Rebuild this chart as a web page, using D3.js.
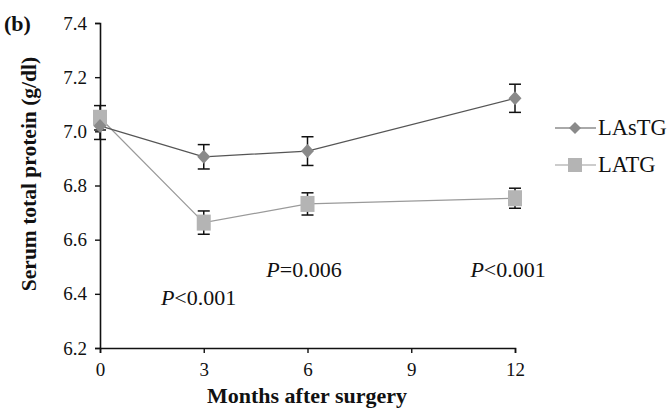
<!DOCTYPE html>
<html><head><meta charset="utf-8">
<script src="https://cdn.jsdelivr.net/npm/d3@7"></script>
<style>body{margin:0;background:#fff}svg{display:block}text{font-family:"Liberation Serif","Times New Roman",serif;fill:#111}</style>
</head><body><svg id="c" width="669" height="411"></svg>
<script>
const months = [0, 3, 6, 12];
const lastgMean = [7.02, 6.906, 6.927, 7.122];
const lastgErr = [0.05, 0.045, 0.053, 0.052];
const latgMean = [7.05, 6.663, 6.732, 6.753];
const latgErr = [0.045, 0.043, 0.041, 0.037];
const xTicks = [0, 3, 6, 9, 12];
const yTicks = [6.2, 6.4, 6.6, 6.8, 7.0, 7.2, 7.4];
const pLabels = [{x: 2.85, y: 6.36, t: "<0.001"}, {x: 5.9, y: 6.463, t: "=0.006"}, {x: 11.8, y: 6.463, t: "<0.001"}];
const seriesNames = ["LAsTG", "LATG"];

const svg = d3.select("#c");
const x = d3.scaleLinear().domain([0, 12]).range([100, 515]);
const y = d3.scaleLinear().domain([6.2, 7.4]).range([348, 23]);

// axes
const yAxis = d3.axisLeft(y).tickValues(yTicks).tickFormat(d3.format(".1f")).tickSizeOuter(0).tickSize(5).tickPadding(8);
const gy = svg.append("g").attr("transform", "translate(100,0)").call(yAxis);
const xAxis = d3.axisBottom(x).tickValues(xTicks).tickFormat(d3.format("d")).tickSizeOuter(0).tickSize(5).tickPadding(10);
const gx = svg.append("g").attr("transform", "translate(0,348)").call(xAxis);
[gy, gx].forEach(g => {
  g.select(".domain").attr("stroke", "#111").attr("stroke-width", 1.6);
  g.selectAll(".tick line").attr("stroke", "#111").attr("stroke-width", 1.4);
  g.selectAll(".tick text").attr("font-size", 19).attr("font-family", "Liberation Serif").attr("fill", "#222");
});

// axis titles
svg.append("text").attr("x", 307).attr("y", 403).attr("text-anchor", "middle").attr("font-size", 22).attr("font-weight", "bold").text("Months after surgery");
svg.append("text").attr("transform", "translate(36,174) rotate(-90)").attr("text-anchor", "middle").attr("font-size", 21.5).attr("font-weight", "bold").text("Serum total protein (g/dl)");
svg.append("text").attr("x", 4).attr("y", 31).attr("font-size", 22).attr("font-weight", "bold").text("(b)");

const line = d3.line().x((d, i) => x(months[i])).y(d => y(d));

// LATG
svg.append("path").attr("d", line(latgMean)).attr("fill", "none").attr("stroke", "#9a9a9a").attr("stroke-width", 1.2);
// LAsTG
svg.append("path").attr("d", line(lastgMean)).attr("fill", "none").attr("stroke", "#555").attr("stroke-width", 1.2);

function errBars(means, errs) {
  means.forEach((m, i) => {
    const cx = x(months[i]);
    const g = svg.append("g").attr("stroke", "#111").attr("stroke-width", 1.5);
    g.append("line").attr("x1", cx).attr("x2", cx).attr("y1", y(m + errs[i])).attr("y2", y(m - errs[i]));
    g.append("line").attr("x1", cx - 6).attr("x2", cx + 6).attr("y1", y(m + errs[i])).attr("y2", y(m + errs[i]));
    g.append("line").attr("x1", cx - 6).attr("x2", cx + 6).attr("y1", y(m - errs[i])).attr("y2", y(m - errs[i]));
  });
}
errBars(latgMean, latgErr);
errBars(lastgMean, lastgErr);

// markers
svg.selectAll(".sq").data(latgMean).enter().append("rect")
  .attr("x", (d, i) => x(months[i]) - 7).attr("y", d => y(d) - 8).attr("width", 14).attr("height", 16)
  .attr("fill", "#b4b4b4");
svg.selectAll(".dm").data(lastgMean).enter().append("path")
  .attr("d", (d, i) => { const cx = x(months[i]), cy = y(d); return `M${cx},${cy-7}L${cx+6.5},${cy}L${cx},${cy+7}L${cx-6.5},${cy}Z`; })
  .attr("fill", "#8a8a8a");

// legend
const leg = [{name: seriesNames[0], yy: 128, stroke: "#555", fill: "#8a8a8a", shape: "d"}, {name: seriesNames[1], yy: 165, stroke: "#9a9a9a", fill: "#b4b4b4", shape: "s"}];
leg.forEach(l => {
  svg.append("line").attr("x1", 555).attr("x2", 596).attr("y1", l.yy).attr("y2", l.yy).attr("stroke", l.stroke).attr("stroke-width", 1.2);
  if (l.shape === "d") svg.append("path").attr("d", `M575,${l.yy-6}L581,${l.yy}L575,${l.yy+6}L569,${l.yy}Z`).attr("fill", l.fill);
  else svg.append("rect").attr("x", 568).attr("y", l.yy - 7).attr("width", 14).attr("height", 14).attr("fill", l.fill);
  svg.append("text").attr("x", 598).attr("y", l.yy + 7).attr("font-size", 22.5).text(l.name);
});

// P labels
pLabels.forEach(p => {
  const t = svg.append("text").attr("x", x(p.x)).attr("y", y(p.y)).attr("text-anchor", "middle").attr("font-size", 22);
  t.append("tspan").attr("font-style", "italic").text("P");
  t.append("tspan").text(p.t);
});
</script></body></html>
